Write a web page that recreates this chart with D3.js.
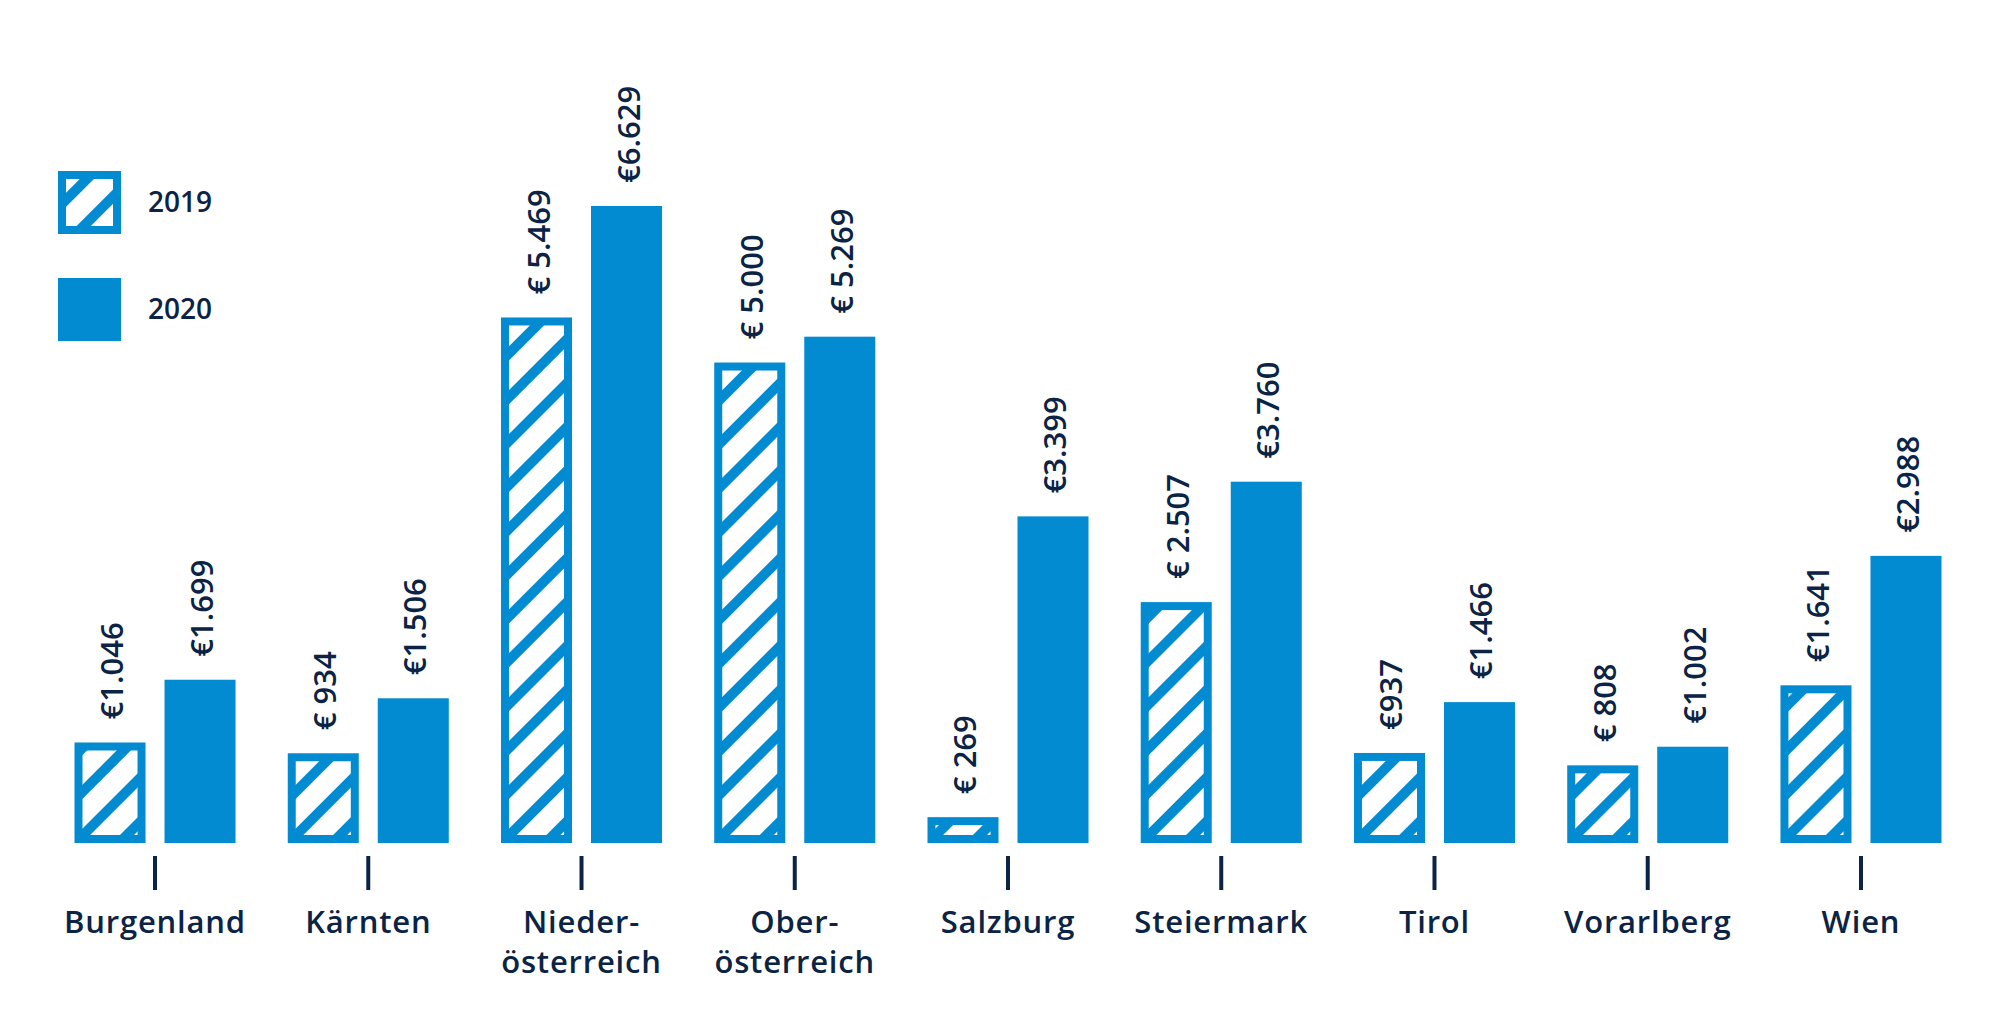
<!DOCTYPE html>
<html>
<head>
<meta charset="utf-8">
<script src="https://cdn.jsdelivr.net/npm/d3@7"></script>
<style>
  body { margin: 0; background: #fff; }
  text { font-family: "Open Sans", sans-serif; font-weight: 600; fill: #0b2344; }
</style>
</head>
<body>
<div id="chart"></div>
<script>
// chart data
const regions = [
  ['Burgenland'], ['Kärnten'], ['Nieder-', 'österreich'], ['Ober-', 'österreich'],
  ['Salzburg'], ['Steiermark'], ['Tirol'], ['Vorarlberg'], ['Wien']
]
const years = ['2019', '2020']
const values2019 = [1046, 934, 5469, 5000, 269, 2507, 937, 808, 1641]
const values2020 = [1699, 1506, 6629, 5269, 3399, 3760, 1466, 1002, 2988]
const labels2019 = ['€1.046', '€ 934', '€ 5.469', '€ 5.000', '€ 269', '€ 2.507', '€937', '€ 808', '€1.641']
const labels2020 = ['€1.699', '€1.506', '€6.629', '€ 5.269', '€3.399', '€3.760', '€1.466', '€1.002', '€2.988']

const w = 2013
const h = 1022
const blue = '#038bd2'
const navy = '#0b2344'
const inset = 8

const svg = d3.select('#chart').append('svg')
  .attr('width', w)
  .attr('height', h)

// diagonal white stripes for 2019
const pat = svg.append('defs').append('pattern')
  .attr('id', 'hatch')
  .attr('patternUnits', 'userSpaceOnUse')
  .attr('width', 31)
  .attr('height', 10)
  .attr('patternTransform', 'rotate(45)')
pat.append('rect').attr('width', 31).attr('height', 10).attr('fill', blue)
pat.append('rect').attr('width', 21).attr('height', 10).attr('fill', '#fff')

const x0 = d3.scaleBand()
  .domain(d3.range(regions.length))
  .range([48.4, 1967.6])

const x1 = d3.scaleBand()
  .domain(years)
  .range([0, x0.bandwidth()])
  .paddingInner(0.211)
  .paddingOuter(0.29)

const y = d3.scaleLinear()
  .domain([0, 6629])
  .range([843, 206])

const rows = regions.map((r, i) => ({
  i: i,
  name: r,
  bars: [
    { year: '2019', v: values2019[i], label: labels2019[i] },
    { year: '2020', v: values2020[i], label: labels2020[i] }
  ]
}))

const groups = svg.selectAll('.group')
  .data(rows)
  .enter()
  .append('g')
  .attr('class', 'group')
  .attr('transform', d => `translate(${x0(d.i)},0)`)

const bars = groups.selectAll('.bar')
  .data(d => d.bars)
  .enter()
  .append('g')
  .attr('class', 'bar')

bars.append('rect')
  .attr('x', d => x1(d.year))
  .attr('y', d => y(d.v))
  .attr('width', x1.bandwidth())
  .attr('height', d => y(0) - y(d.v))
  .attr('fill', blue)

// inner hatch area for 2019 bars
bars.filter(d => d.year === '2019')
  .append('rect')
  .attr('x', d => x1(d.year) + inset)
  .attr('y', d => y(d.v) + inset)
  .attr('width', x1.bandwidth() - inset * 2)
  .attr('height', d => Math.max(0, y(0) - y(d.v) - inset * 2))
  .attr('fill', 'url(#hatch)')

// value labels, rotated
bars.append('text')
  .attr('transform', d => `translate(${x1(d.year) + x1.bandwidth() / 2 + 1},${y(d.v) - 23}) rotate(-90)`)
  .attr('dominant-baseline', 'central')
  .attr('font-size', 31)
  .text(d => d.label)

// ticks under each group
groups.append('line')
  .attr('x1', x0.bandwidth() / 2)
  .attr('x2', x0.bandwidth() / 2)
  .attr('y1', 856)
  .attr('y2', 890)
  .attr('stroke', navy)
  .attr('stroke-width', 4)

const cat = groups.append('text')
  .attr('text-anchor', 'middle')
  .attr('font-size', 31)
  .attr('letter-spacing', 0.8)

cat.selectAll('tspan')
  .data(d => d.name)
  .enter()
  .append('tspan')
  .attr('x', x0.bandwidth() / 2)
  .attr('y', (d, k) => 933 + k * 40)
  .text(d => d)

// legend
const legend = svg.append('g')
  .selectAll('g')
  .data(years)
  .enter()
  .append('g')
  .attr('transform', (d, k) => `translate(58,${171 + k * 107})`)

legend.append('rect')
  .attr('width', 63)
  .attr('height', 63)
  .attr('fill', blue)

legend.filter(d => d === '2019')
  .append('rect')
  .attr('x', inset)
  .attr('y', inset)
  .attr('width', 63 - inset * 2)
  .attr('height', 63 - inset * 2)
  .attr('fill', 'url(#hatch)')

legend.append('text')
  .attr('x', 90)
  .attr('y', 41)
  .attr('font-size', 28)
  .text(d => d)
</script>
</body>
</html>
